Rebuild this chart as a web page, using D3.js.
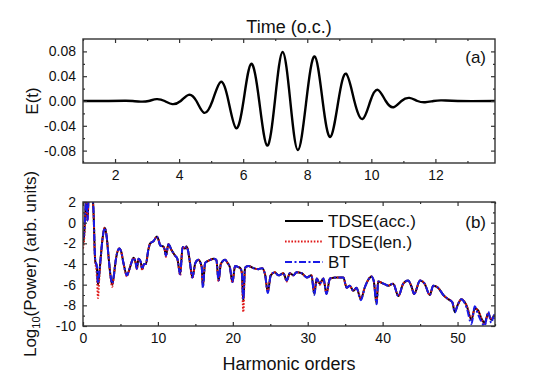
<!DOCTYPE html>
<html>
<head>
<meta charset="utf-8">
<script src="https://cdn.jsdelivr.net/npm/d3@7/dist/d3.min.js"></script>
<style>
body { margin: 0; background: #fff; }
text { font-family: "Liberation Sans", Arial, sans-serif; fill: #111; }
</style>
</head>
<body>
<div id="chart"></div>
<script>
// panel (a): electric field vs time (optical cycles)
var timeOc = [1.0, 1.8, 2.3, 2.55, 2.8, 3.05, 3.3, 3.55, 3.79, 4.05, 4.3, 4.54, 4.78, 5.04, 5.3, 5.54,
    5.78, 6.01, 6.25, 6.5, 6.75, 6.99, 7.23, 7.47, 7.71, 7.97, 8.23, 8.48, 8.72, 8.97, 9.21, 9.47,
    9.73, 9.97, 10.2, 10.45, 10.69, 10.94, 11.19, 11.44, 11.68, 11.94, 12.2, 12.7, 13.86];
var field = [0, 0, 0.0004, 0, -0.001, 0, 0.003, 0, -0.005, 0, 0.010, 0, -0.019, 0, 0.031, 0,
    -0.044, 0, 0.060, 0, -0.072, 0, 0.079, 0, -0.079, 0, 0.072, 0, -0.058, 0, 0.044, 0,
    -0.029, 0, 0.018, 0, -0.010, 0, 0.005, 0, -0.002, 0, 0.001, 0, 0];
var timeTicks = [2, 4, 6, 8, 10, 12];
var timeMinor = [1, 3, 5, 7, 9, 11, 13];
var fieldTicks = [-0.08, -0.04, 0, 0.04, 0.08];
var fieldMinor = [-0.06, -0.02, 0.02, 0.06];

// panel (b): harmonic spectra
var harmonics = [0, 0.15, 0.3, 0.45, 0.6, 0.75, 0.95, 1.15, 1.3, 1.45, 1.55, 1.65, 1.8, 1.9, 2.0, 2.15,
    2.35, 2.6, 2.89, 3.15, 3.4, 3.65, 3.9, 4.1, 4.4, 4.84, 5.1, 5.4, 5.86, 6.2, 6.5, 6.75,
    7.0, 7.2, 7.4, 7.7, 7.9, 8.15, 8.4, 8.7, 8.97, 9.4, 9.87, 10.1, 10.3, 10.7, 10.9, 11.07,
    11.4, 11.85, 12.3, 12.6, 12.97, 13.3, 13.6, 13.8, 14.05, 14.3, 14.6, 15.0, 15.4, 15.85,
    16.0, 16.3, 16.7, 17.0, 17.4, 17.8, 18.1, 18.4, 18.97, 19.3, 19.6, 19.95, 20.3, 20.75,
    21.0, 21.2, 21.4, 21.6, 21.7, 22.1, 22.75, 23.4, 23.9, 24.3, 24.67, 25.06, 25.6, 26.1,
    26.75, 27.2, 27.6, 28.1, 28.5, 29.2, 29.9, 30.5, 30.88, 31.2, 31.6, 32.1, 32.5, 32.97,
    33.9, 34.75, 35.2, 35.6, 36.1, 36.5, 37.1, 37.6, 38.1, 38.5, 38.8, 39.2, 39.4, 40.1,
    40.75, 41.4, 42.1, 42.75, 43.4, 43.86, 44.2, 45.0, 45.6, 46.3, 46.75, 47.4, 48.1, 48.75,
    49.3, 49.64, 50.0, 50.5, 51.2, 51.86, 52.3, 52.75, 53.2, 53.6, 54.1, 54.5, 54.9, 55];
var powerAcc = [-2.0, -1.2, 0.8, 2.8, 0.2, 2.6, 3.5, 3.2, 2.4, 0.2, -2.5, -3.8, -4.1, -4.8, -6.0, -5.2,
    -3.5, -1.6, -0.5, -1.3, -3.2, -5.0, -6.0, -5.2, -3.5, -2.5, -2.8, -3.9, -5.1, -4.5, -3.8, -3.4,
    -3.8, -4.45, -3.5, -3.8, -4.5, -4.0, -4.0, -2.7, -2.0, -1.8, -1.35, -1.7, -2.2, -2.3, -2.6, -3.2,
    -2.1, -2.7, -3.2, -3.5, -5.0, -2.35, -2.5, -2.3, -2.8, -4.0, -5.3, -3.9, -3.6, -4.3,
    -6.2, -3.9, -3.7, -3.6, -3.5, -3.6, -5.6, -4.0, -3.6, -3.9, -4.3, -5.75, -4.2, -4.3,
    -4.4, -4.8, -7.6, -4.6, -4.3, -4.2, -4.4, -4.5, -4.4, -5.0, -6.7, -5.1, -4.8, -5.1,
    -4.9, -5.6, -4.9, -5.1, -4.8, -4.9, -5.3, -5.1, -6.9, -5.4, -5.9, -5.4, -6.9, -5.4,
    -5.3, -5.3, -6.3, -6.1, -6.6, -6.3, -7.4, -6.3, -5.5, -5.2, -5.6, -7.85, -5.7, -5.9,
    -6.1, -5.9, -7.1, -5.9, -5.6, -6.2, -6.9, -5.6, -5.9, -7.0, -6.1, -6.3, -7.0, -7.4,
    -7.7, -8.65, -8.0, -7.4, -8.0, -9.4, -8.3, -8.5, -9.3, -9.7, -8.8, -9.4, -9.0, -9.1];
var powerLen = [-2.5, -1.6, 0.6, 2.8, 0.2, 2.6, 3.5, 3.2, 2.4, 0.0, -2.6, -3.9, -4.6, -5.8, -7.3, -5.6,
    -3.6, -1.6, -0.5, -1.3, -3.2, -5.1, -6.2, -5.3, -3.5, -2.5, -2.8, -3.9, -5.2, -4.5, -3.8, -3.4,
    -3.8, -4.5, -3.5, -3.8, -4.6, -4.0, -4.0, -2.7, -2.0, -1.8, -1.35, -1.7, -2.2, -2.3, -2.6, -3.3,
    -2.1, -2.7, -3.2, -3.5, -5.1, -2.35, -2.5, -2.3, -2.8, -4.0, -5.4, -3.9, -3.6, -4.3,
    -6.0, -3.9, -3.7, -3.6, -3.5, -3.6, -5.7, -4.0, -3.6, -3.9, -4.3, -5.8, -4.2, -4.3,
    -4.4, -4.9, -8.65, -4.7, -4.3, -4.2, -4.4, -4.5, -4.4, -5.0, -6.6, -5.1, -4.8, -5.1,
    -4.9, -5.7, -4.9, -5.1, -4.8, -4.9, -5.3, -5.1, -6.6, -5.4, -6.0, -5.4, -6.8, -5.4,
    -5.3, -5.3, -6.3, -6.1, -6.6, -6.3, -7.3, -6.3, -5.5, -5.2, -5.6, -7.6, -5.7, -5.9,
    -6.1, -5.9, -7.1, -5.9, -5.6, -6.2, -6.9, -5.6, -5.9, -7.0, -6.1, -6.3, -7.0, -7.4,
    -7.7, -8.5, -8.0, -7.4, -8.0, -9.3, -8.3, -8.5, -9.3, -9.9, -8.8, -9.4, -9.0, -9.1];
var powerBT = [-1.5, -1.0, 0.9, 2.8, 0.2, 2.6, 3.5, 3.2, 2.4, 0.3, -2.4, -3.8, -4.0, -4.6, -5.9, -5.0,
    -3.5, -1.6, -0.5, -1.3, -3.2, -5.0, -5.9, -5.2, -3.5, -2.5, -2.8, -3.9, -5.1, -4.5, -3.8, -3.4,
    -3.8, -4.45, -3.5, -3.8, -4.5, -4.0, -4.0, -2.7, -2.0, -1.8, -1.35, -1.7, -2.2, -2.3, -2.6, -3.2,
    -2.1, -2.7, -3.2, -3.5, -5.0, -2.35, -2.5, -2.3, -2.8, -4.0, -5.3, -3.9, -3.6, -4.3,
    -6.3, -3.9, -3.7, -3.6, -3.5, -3.6, -5.6, -4.0, -3.6, -3.9, -4.3, -5.75, -4.2, -4.3,
    -4.4, -4.8, -7.4, -4.6, -4.3, -4.2, -4.4, -4.5, -4.4, -5.0, -6.8, -5.1, -4.8, -5.1,
    -4.9, -5.6, -4.9, -5.1, -4.8, -4.9, -5.3, -5.1, -7.0, -5.4, -5.9, -5.4, -6.9, -5.4,
    -5.3, -5.3, -6.3, -6.1, -6.6, -6.3, -7.5, -6.3, -5.5, -5.2, -5.6, -7.9, -5.7, -5.9,
    -6.1, -5.9, -7.1, -5.9, -5.6, -6.2, -6.9, -5.6, -5.9, -7.0, -6.1, -6.3, -7.0, -7.4,
    -7.7, -8.7, -8.0, -7.4, -8.2, -9.8, -8.1, -8.9, -9.6, -10.0, -8.6, -9.7, -8.9, -9.3];
var harmTicks = [0, 10, 20, 30, 40, 50];
var harmMinor = [5, 15, 25, 35, 45, 55];
var powerTicks = [-10, -8, -6, -4, -2, 0, 2];
var powerMinor = [-9, -7, -5, -3, -1, 1];
var seriesNames = ["TDSE(acc.)", "TDSE(len.)", "BT"];

var W = 550, H = 388;
var left = 83, right = 495;
var topA = 39, botA = 163;
var topB = 202, botB = 326;

var svg = d3.select("#chart").append("svg")
    .attr("width", W)
    .attr("height", H);

function drawAxes(x, y, yTop, yBot, xMaj, xMin, yMaj, yMin, fmtY){
    var g = svg.append("g");
    // bottom
    g.append("g")
        .attr("transform", "translate(0," + yBot + ")")
        .call(d3.axisBottom(x).tickValues(xMaj).tickSizeInner(-4).tickSizeOuter(0).tickPadding(7)
            .tickFormat(function(d){ return String(d); }));
    g.append("g")
        .attr("transform", "translate(0," + yBot + ")")
        .call(d3.axisBottom(x).tickValues(xMin).tickSize(-2).tickFormat(""));
    // top
    g.append("g")
        .attr("transform", "translate(0," + yTop + ")")
        .call(d3.axisTop(x).tickValues(xMaj).tickSize(-4).tickFormat(""));
    g.append("g")
        .attr("transform", "translate(0," + yTop + ")")
        .call(d3.axisTop(x).tickValues(xMin).tickSize(-2).tickFormat(""));
    // left
    g.append("g")
        .attr("transform", "translate(" + left + ",0)")
        .call(d3.axisLeft(y).tickValues(yMaj).tickSizeInner(-4).tickSizeOuter(0).tickPadding(7)
            .tickFormat(fmtY));
    g.append("g")
        .attr("transform", "translate(" + left + ",0)")
        .call(d3.axisLeft(y).tickValues(yMin).tickSize(-2).tickFormat(""));
    // right
    g.append("g")
        .attr("transform", "translate(" + right + ",0)")
        .call(d3.axisRight(y).tickValues(yMaj).tickSize(-4).tickFormat(""));
    g.append("g")
        .attr("transform", "translate(" + right + ",0)")
        .call(d3.axisRight(y).tickValues(yMin).tickSize(-2).tickFormat(""));

    g.selectAll(".domain").remove();
    g.selectAll(".tick line").attr("stroke", "#333").attr("stroke-width", 1.2);
    g.selectAll(".tick text")
        .attr("fill", "#111")
        .style("font-size", "14px")
        .style("font-family", '"Liberation Sans", Arial, sans-serif');

    svg.append("rect")
        .attr("x", left)
        .attr("y", yTop)
        .attr("width", right - left)
        .attr("height", yBot - yTop)
        .attr("fill", "none")
        .attr("stroke", "#333")
        .attr("stroke-width", 1.4);
}

// ---- panel (a)
var xa = d3.scaleLinear().domain([1, 13.86]).range([left, right]);
var ya = d3.scaleLinear().domain([-0.1, 0.1]).range([botA, topA]);

var fieldLine = d3.line()
    .x(function(d, i){ return xa(timeOc[i]); })
    .y(function(d){ return ya(d); })
    .curve(d3.curveNatural);

svg.append("path")
    .attr("fill", "none")
    .attr("stroke", "#000")
    .attr("stroke-width", 2.4)
    .attr("stroke-linejoin", "round")
    .attr("d", fieldLine(field));

drawAxes(xa, ya, topA, botA, timeTicks, timeMinor, fieldTicks, fieldMinor,
    function(d){ return d.toFixed(2); });

svg.append("text")
    .attr("x", 289)
    .attr("y", 33)
    .attr("text-anchor", "middle")
    .style("font-size", "18px")
    .text("Time (o.c.)");

svg.append("text")
    .attr("x", 486)
    .attr("y", 63)
    .attr("text-anchor", "end")
    .style("font-size", "17px")
    .text("(a)");

svg.append("text")
    .attr("transform", "translate(32,101) rotate(-90)")
    .attr("text-anchor", "middle")
    .attr("dy", "0.35em")
    .style("font-size", "17px")
    .text("E(t)");

// ---- panel (b)
var xb = d3.scaleLinear().domain([0, 55]).range([left, right]);
var yb = d3.scaleLinear().domain([-10, 2]).range([botB, topB]);

svg.append("clipPath")
    .attr("id", "clipB")
    .append("rect")
    .attr("x", left)
    .attr("y", topB)
    .attr("width", right - left)
    .attr("height", botB - topB);

var powerLine = d3.line()
    .x(function(d, i){ return xb(harmonics[i]); })
    .y(function(d){ return yb(d); })
    .curve(d3.curveMonotoneX);

var styles = [
    {data: powerAcc, color: "#000", dash: null},
    {data: powerLen, color: "#e01818", dash: "1.6,1.6"},
    {data: powerBT, color: "#1a1ae6", dash: "7,2.5,2,2.5"}
];

var plotB = svg.append("g").attr("clip-path", "url(#clipB)");
styles.forEach(function(s){
    plotB.append("path")
        .attr("fill", "none")
        .attr("stroke", s.color)
        .attr("stroke-width", 2)
        .attr("stroke-dasharray", s.dash)
        .attr("stroke-linejoin", "round")
        .attr("d", powerLine(s.data));
});

drawAxes(xb, yb, topB, botB, harmTicks, harmMinor, powerTicks, powerMinor,
    function(d){ return String(d); });

// legend
var legend = svg.append("g");
styles.forEach(function(s, i){
    var ly = 221 + i * 20.5;
    legend.append("line")
        .attr("x1", 285).attr("x2", 323)
        .attr("y1", ly).attr("y2", ly)
        .attr("stroke", s.color)
        .attr("stroke-width", 2)
        .attr("stroke-dasharray", s.dash);
    legend.append("text")
        .attr("x", 328)
        .attr("y", ly + 6)
        .style("font-size", "17px")
        .text(seriesNames[i]);
});

svg.append("text")
    .attr("x", 486)
    .attr("y", 228)
    .attr("text-anchor", "end")
    .style("font-size", "17px")
    .text("(b)");

svg.append("text")
    .attr("x", 289)
    .attr("y", 370)
    .attr("text-anchor", "middle")
    .style("font-size", "18px")
    .text("Harmonic orders");

var yLab = svg.append("text")
    .attr("transform", "translate(36,264) rotate(-90)")
    .attr("text-anchor", "middle")
    .style("font-size", "17px");
yLab.append("tspan").text("Log");
yLab.append("tspan").attr("dy", 4).style("font-size", "11px").text("10");
yLab.append("tspan").attr("dy", -4).text("(Power) (arb. units)");
</script>
</body>
</html>
